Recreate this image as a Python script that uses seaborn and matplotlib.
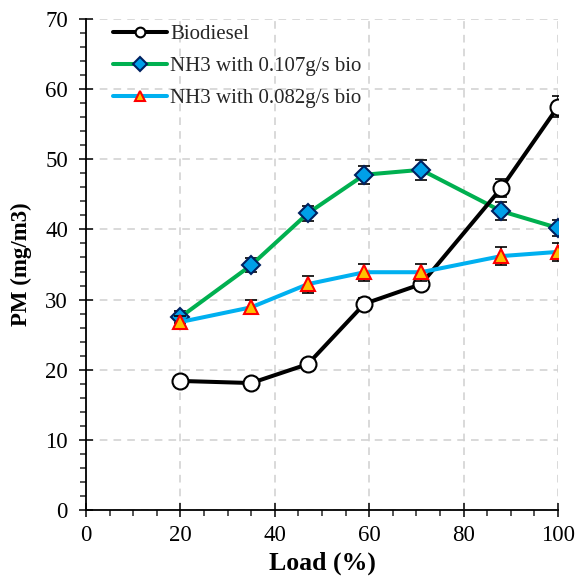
import matplotlib
matplotlib.use("Agg")
import matplotlib.pyplot as plt
import seaborn as sns
import pandas as pd
from matplotlib.ticker import MultipleLocator

sns.set_theme(style="white")
plt.rcParams['font.family'] = ['Liberation Serif', 'DejaVu Serif']

load = [20, 35, 47, 59, 71, 88, 100]
biodiesel = [18.4, 18.1, 20.8, 29.4, 32.2, 45.9, 57.5]
biodiesel_err = [0.6, 0.6, 0.6, 0.8, 0.9, 1.3, 1.5]
nh3_107 = [27.5, 34.9, 42.3, 47.8, 48.5, 42.6, 40.2]
nh3_107_err = [0.9, 1.0, 1.1, 1.3, 1.4, 1.3, 1.1]
nh3_082 = [26.8, 28.9, 32.2, 33.9, 33.9, 36.2, 36.8]
nh3_082_err = [0.8, 1.0, 1.2, 1.2, 1.2, 1.3, 1.3]

fig = plt.figure(figsize=(5.79, 5.78), dpi=100)
ax = fig.add_axes([86 / 579, 68 / 578, 472 / 579, 491 / 578])

series = [
    ("NH3 with 0.107g/s bio", nh3_107, nh3_107_err, "#00B050", "D", "#00A0E8", "#002060", 9.5, 2),
    ("Biodiesel", biodiesel, biodiesel_err, "black", "o", "white", "black", 11.5, 3),
    ("NH3 with 0.082g/s bio", nh3_082, nh3_082_err, "#00B0F0", "^", "#FFC000", "#FF0000", 10, 4),
]
for name, vals, err, col, mk, mfc, mec, ms, z in series:
    df = pd.DataFrame({"Load": load, "PM": vals})
    ax.errorbar(load, vals, yerr=err, fmt="none", ecolor="black", elinewidth=1.2,
                capsize=4, capthick=1.2, zorder=z)
    sns.lineplot(data=df, x="Load", y="PM", ax=ax, color=col, linewidth=2.9,
                 marker=mk, markersize=ms, markerfacecolor=mfc, markeredgecolor=mec,
                 markeredgewidth=1.5, zorder=z + 0.5, label=name)

h, l = ax.get_legend_handles_labels()
order = [l.index("Biodiesel"), l.index("NH3 with 0.107g/s bio"), l.index("NH3 with 0.082g/s bio")]
leg = ax.legend([h[i] for i in order], [l[i] for i in order], loc="upper left",
                frameon=False, fontsize=15, handlelength=2.6, handletextpad=0.15,
                labelspacing=0.58, borderpad=0, borderaxespad=0,
                bbox_to_anchor=(0.057, 0.988))
for lh in leg.legend_handles:
    lh.set_markersize(7)

ax.set_xlim(0, 100)
ax.set_ylim(0, 70)
ax.xaxis.set_major_locator(MultipleLocator(20))
ax.xaxis.set_minor_locator(MultipleLocator(5))
ax.yaxis.set_major_locator(MultipleLocator(10))
ax.yaxis.set_minor_locator(MultipleLocator(2))
ax.grid(True, which="major", color="#D0D0D0", linestyle=(0, (5, 4)), linewidth=1.1)
ax.set_axisbelow(True)

for side in ["top", "right"]:
    ax.spines[side].set_visible(False)
for side in ["left", "bottom"]:
    ax.spines[side].set_color("black")
    ax.spines[side].set_linewidth(1.3)

ax.tick_params(axis="x", which="major", direction="inout", length=10, width=1.3, labelsize=16.5, pad=6, bottom=True)
ax.tick_params(axis="x", which="minor", direction="out", length=4, width=1.1, bottom=True)
ax.tick_params(axis="y", which="major", direction="inout", length=10, width=1.3, labelsize=16.5, pad=8, left=True)
ax.tick_params(axis="y", which="minor", direction="out", length=4, width=1.1, left=True)
for t in ax.get_xticklabels() + ax.get_yticklabels():
    t.set_color("black")

ax.set_xlabel("Load (%)", fontsize=18.5, fontweight="bold", color="black", labelpad=4)
ax.set_ylabel("PM (mg/m3)", fontsize=16.5, fontweight="bold", color="black")
ax.yaxis.set_label_coords(-0.114, 0.5)

fig.savefig("out.png", dpi=100)
